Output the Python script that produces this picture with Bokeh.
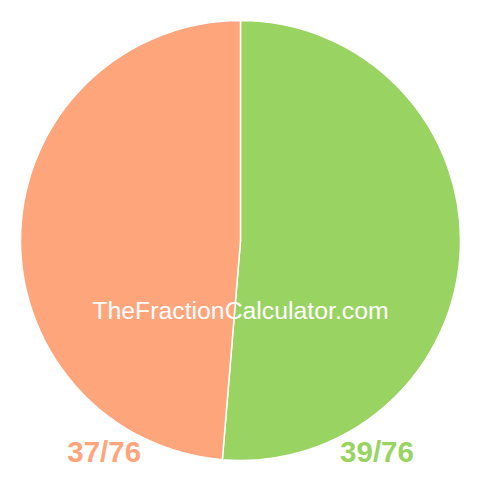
import math
from bokeh.plotting import figure
from bokeh.models import Range1d, ColumnDataSource
from bokeh.core.properties import value
from bokeh.embed import file_html
from bokeh.resources import INLINE

# Data
labels = ["39/76", "37/76"]
numerators = [39, 37]
denominator = 76
colors = ["#99D462", "#FFA57C"]
watermark = "TheFractionCalculator.com"

# Angles: start at top, go clockwise
fracs = [n / denominator for n in numerators]
starts, ends = [], []
cur = math.pi / 2
for f in fracs:
    ang = f * 2 * math.pi
    starts.append(cur - ang)
    ends.append(cur)
    cur -= ang

src = ColumnDataSource(dict(start=starts, end=ends, color=colors, label=labels))

W = H = 464
p = figure(width=W, height=H, output_backend="svg", toolbar_location=None,
           x_range=Range1d(0, 464), y_range=Range1d(0, 464), min_border=0)
p.axis.visible = False
p.grid.visible = False
p.outline_line_color = None
p.background_fill_color = "white"
p.border_fill_color = "white"

def Y(img_y):
    return 464 - img_y

cx, cy, r = 240, Y(240), 220
p.wedge(x=cx, y=cy, radius=r, start_angle="start", end_angle="end",
        direction="anticlock", fill_color="color", line_color="white",
        line_width=1.5, source=src)

# watermark
p.text(x=[240], y=[Y(310)], text=[watermark], text_color="white",
       text_font=value("Liberation Sans"), text_font_size="24.8px",
       text_align="center", text_baseline="alphabetic")

# labels
p.text(x=[376.5, 103.7], y=[Y(451.3), Y(451.3)], text=labels,
       text_color=colors, text_font=value("Liberation Sans"),
       text_font_size="29.5px", text_font_style="bold",
       text_align="center", text_baseline="alphabetic")

open("out.html", "w").write(file_html(p, INLINE))
